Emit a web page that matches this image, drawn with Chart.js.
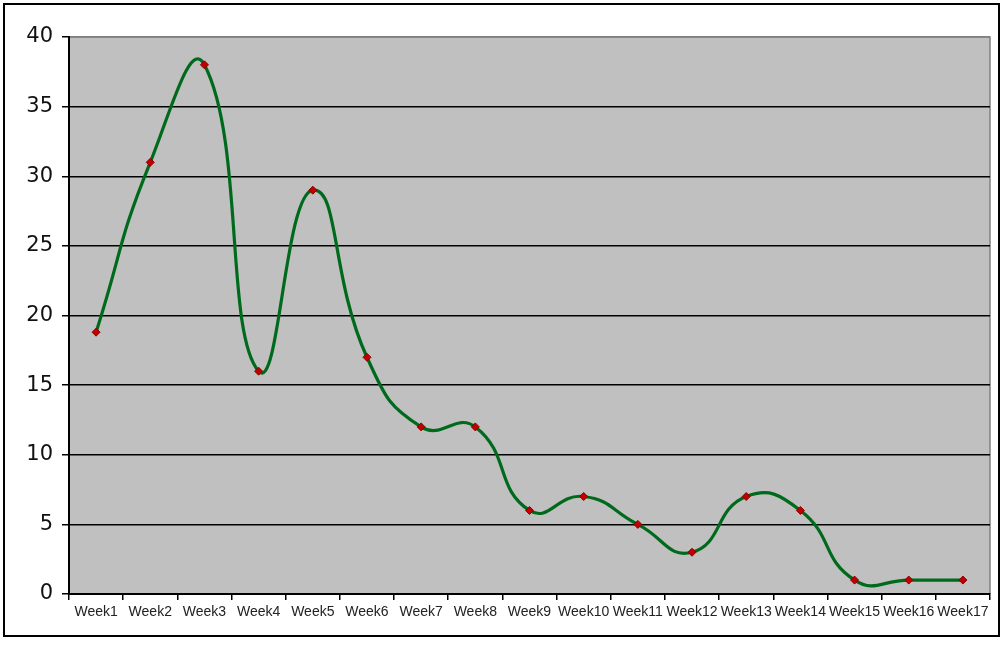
<!DOCTYPE html>
<html>
<head>
<meta charset="utf-8">
<script src="https://cdn.jsdelivr.net/npm/chart.js@4/dist/chart.umd.min.js"></script>
<style>
  html, body { margin: 0; padding: 0; background: #ffffff; }
  #wrap { position: relative; width: 1003px; height: 645px; }
</style>
</head>
<body>
<div id="wrap"><canvas id="c" width="1003" height="645"></canvas></div>
<script>
// Weekly counts
const weeks = ['Week1','Week2','Week3','Week4','Week5','Week6','Week7','Week8','Week9',
               'Week10','Week11','Week12','Week13','Week14','Week15','Week16','Week17'];
const counts = [18.8, 31, 38, 16, 29, 17, 12, 12, 6, 7, 5, 3, 7, 6, 1, 1, 1];
const yTicks = [0, 5, 10, 15, 20, 25, 30, 35, 40];

// Grey plot area, plus the thin frame around the whole figure
const frame = {
  id: 'frame',
  beforeDraw(chart) {
    const { ctx, chartArea: a } = chart;
    ctx.save();
    ctx.fillStyle = '#ffffff';
    ctx.fillRect(0, 0, chart.width, chart.height);
    ctx.fillStyle = '#c0c0c0';
    ctx.fillRect(a.left, a.top, a.right - a.left, a.bottom - a.top);
    ctx.strokeStyle = '#808080';
    ctx.lineWidth = 1.5;
    ctx.beginPath();
    ctx.moveTo(a.left, a.top);
    ctx.lineTo(a.right, a.top);
    ctx.lineTo(a.right, a.bottom);
    ctx.stroke();
    ctx.strokeStyle = '#000000';
    ctx.lineWidth = 2;
    ctx.strokeRect(4, 4, chart.width - 8, chart.height - 13);
    ctx.restore();
  }
};

new Chart(document.getElementById('c'), {
  type: 'line',
  data: {
    labels: weeks,
    datasets: [{
      data: counts,
      borderColor: '#006a1c',
      borderWidth: 3.2,
      tension: 0.5,
      fill: false,
      pointStyle: 'rectRot',
      pointRadius: 4,
      pointBackgroundColor: '#c00000',
      pointBorderColor: '#8b0000',
      pointBorderWidth: 1
    }]
  },
  options: {
    responsive: false,
    animation: false,
    events: [],
    layout: { padding: { left: 0, right: 13, top: 37, bottom: 0 } },
    plugins: { legend: { display: false }, tooltip: { enabled: false } },
    scales: {
      x: {
        offset: true,
        grid: { offset: true, drawOnChartArea: false, drawTicks: true, tickLength: 6, color: '#000000', lineWidth: 1.5 },
        border: { display: true, color: '#000000', width: 2 },
        ticks: {
          color: '#222222',
          padding: 4,
          maxRotation: 0,
          autoSkip: false,
          font: { family: '"Liberation Sans Narrow", "Arial Narrow", "Liberation Sans", sans-serif', size: 14 }
        },
        afterFit(scale) { scale.height = 51; }
      },
      y: {
        min: 0,
        max: 40,
        afterBuildTicks(scale) { scale.ticks = yTicks.map(v => ({ value: v })); },
        grid: {
          color: ctx => (ctx.tick && ctx.tick.value === 40 ? '#808080' : '#000000'),
          lineWidth: 1.5,
          tickLength: 7,
          tickColor: '#000000'
        },
        border: { display: true, color: '#000000', width: 2 },
        ticks: {
          color: '#111111',
          padding: 9,
          font: { family: '"DejaVu Sans", sans-serif', size: 21 }
        },
        afterFit(scale) { scale.width = 69; }
      }
    }
  },
  plugins: [frame]
});
</script>
</body>
</html>
